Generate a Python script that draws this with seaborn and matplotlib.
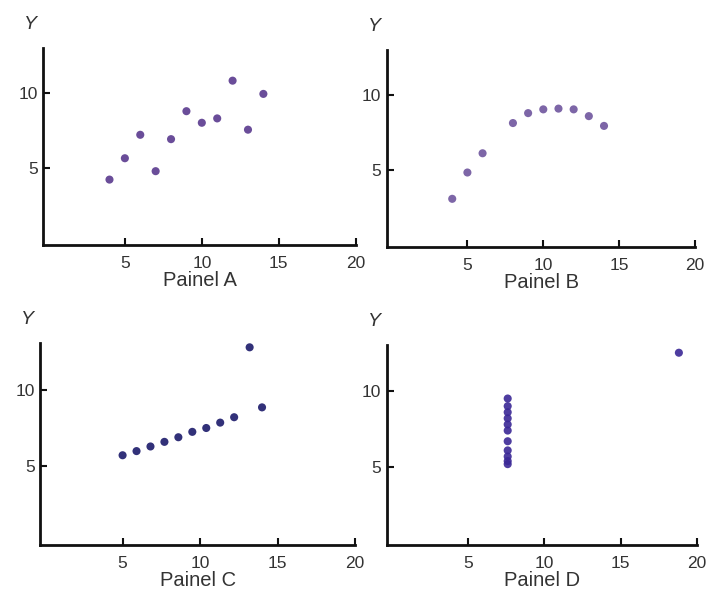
import numpy as np
import pandas as pd
import matplotlib
matplotlib.use("Agg")
import matplotlib.pyplot as plt
import seaborn as sns

# Data (Anscombe-like quartet)
x_a = [10, 8, 13, 9, 11, 14, 6, 4, 12, 7, 5]
y_a = [8.04, 6.95, 7.58, 8.81, 8.33, 9.96, 7.24, 4.26, 10.84, 4.82, 5.68]

x_b = [10, 8, 13, 9, 11, 14, 6, 4, 12, 5]
y_b = [9.05, 8.14, 8.6, 8.8, 9.1, 7.95, 6.13, 3.10, 9.05, 4.85]

x_c = [5, 5.9, 6.8, 7.7, 8.6, 9.5, 10.4, 11.3, 12.2, 13.2, 14]
y_c = [5.73, 6.0, 6.3, 6.6, 6.9, 7.25, 7.5, 7.85, 8.2, 12.74, 8.84]

x_d = [7.6] * 11 + [18.8]
y_d = [9.5, 9.0, 8.6, 8.2, 7.8, 7.4, 6.7, 6.1, 5.7, 5.4, 5.2, 12.5]

panels = ["Painel A", "Painel B", "Painel C", "Painel D"]
colors = ["#5a3a8e", "#6f559e", "#1c1a6a", "#3b2896"]
x_ticks = [5, 10, 15, 20]
y_ticks = [5, 10]

sns.set_style("ticks")
plt.rcParams["font.family"] = ["Liberation Sans", "DejaVu Sans"]

fig = plt.figure(figsize=(7.1, 5.95), dpi=100)
# axes boxes in figure fractions (left, bottom, width, height)
boxes = [
    (0.061, 0.588, 0.44, 0.331),
    (0.545, 0.585, 0.434, 0.331),
    (0.057, 0.084, 0.443, 0.339),
    (0.545, 0.084, 0.437, 0.336),
]
data = [(x_a, y_a), (x_b, y_b), (x_c, y_c), (x_d, y_d)]

for (xs, ys), name, col, box in zip(data, panels, colors, boxes):
    ax = fig.add_axes(box)
    df = pd.DataFrame({"x": xs, "y": ys})
    sns.scatterplot(data=df, x="x", y="y", ax=ax, color=col, s=34,
                    edgecolor="none", alpha=0.9)
    ax.set_xlim(-0.3, 20)
    ax.set_ylim(-0.1, 13)
    ax.set_xticks(x_ticks)
    ax.set_yticks(y_ticks)
    ax.tick_params(direction="in", length=5, width=1.5, colors="#111",
                   labelcolor="#333", labelsize=12.5)
    ax.tick_params(axis="x", pad=8)
    ax.tick_params(axis="y", pad=4)
    sns.despine(ax=ax)
    for sp in ["left", "bottom"]:
        ax.spines[sp].set_linewidth(2)
        ax.spines[sp].set_color("#111")
    ax.set_xlabel(name, fontsize=14.5, color="#333", labelpad=0)
    ax.set_ylabel("")
    ax.text(-0.04, 1.12, "Y", transform=ax.transAxes, fontsize=14,
            color="#333", style="italic", ha="center", va="center")

plt.savefig("out.png", dpi=100)
